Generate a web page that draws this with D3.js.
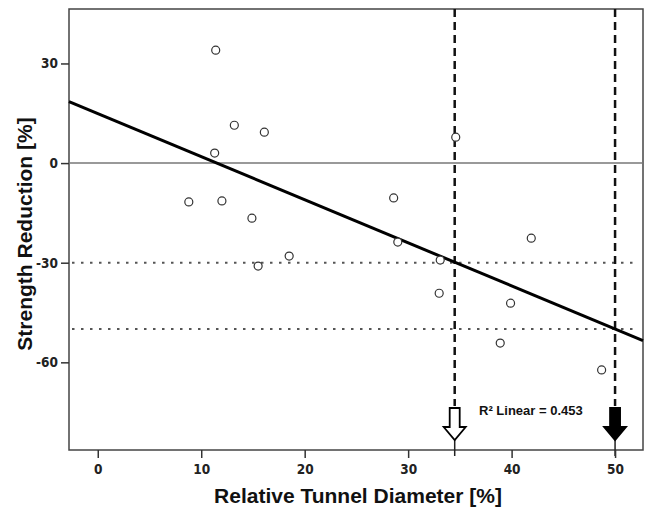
<!DOCTYPE html>
<html>
<head>
<meta charset="utf-8">
<script src="https://cdn.jsdelivr.net/npm/d3@7"></script>
<style>
	body { margin: 0; background: #fff; }
	.tick text { font-family: "Liberation Sans Narrow", "DejaVu Sans Condensed", sans-serif; font-weight: bold; font-size: 13.5px; fill: #222; }
	.title { font-family: "Liberation Sans", Arial, sans-serif; font-weight: bold; font-size: 21px; fill: #111; }
</style>
</head>
<body>
<div id="chart"></div>
<script>

// relative tunnel diameter [%] and strength reduction [%]
var diameter  = [11.4, 11.3, 13.2, 16.1,  8.8,  12.0,  14.9,  15.5,  18.5,  28.6,  29.0, 34.6,  33.1,  33.0,  41.9,  39.9,  38.9,  48.7];
var reduction = [34.0,  3.0, 11.4,  9.3, -11.7, -11.4, -16.6, -31.0, -28.0, -10.5, -23.8, 7.8, -29.2, -39.2, -22.6, -42.2, -54.2, -62.3];

var xTicks = [0, 10, 20, 30, 40, 50];
var yTicks = [-60, -30, 0, 30];

var fitIntercept = 14.9;
var fitSlope     = -1.297;
var rSquared     = "0.453";

var refLines   = [-30, -50];   // dotted horizontal lines
var markLines  = [34.5, 50];   // dashed vertical lines with arrows

var width = 650, height = 509;
var plotL = 69, plotR = 643, plotT = 9, plotB = 450;

var svg = d3.select("#chart")
	.append("svg")
	.attr("width", width)
	.attr("height", height);

var x = d3.scaleLinear().domain([-2.78, 52.7]).range([plotL, plotR]);
var y = d3.scaleLinear().domain([-86.4, 46.4]).range([plotB, plotT]);

// frame
svg.append("rect")
	.attr("x", plotL)
	.attr("y", plotT)
	.attr("width", plotR - plotL)
	.attr("height", plotB - plotT)
	.attr("fill", "none")
	.attr("stroke", "#444")
	.attr("stroke-width", 1.5);

// zero line
svg.append("line")
	.attr("x1", plotL).attr("x2", plotR)
	.attr("y1", y(0)).attr("y2", y(0))
	.attr("stroke", "#777")
	.attr("stroke-width", 1.5);

// dotted reference lines
svg.selectAll(".ref")
	.data(refLines)
	.enter().append("line")
	.attr("class", "ref")
	.attr("x1", plotL + 3).attr("x2", plotR - 4)
	.attr("y1", function(d) { return y(d); })
	.attr("y2", function(d) { return y(d); })
	.attr("stroke", "#555")
	.attr("stroke-width", 2)
	.attr("stroke-dasharray", "2.5,6.5");

// dashed vertical lines
svg.selectAll(".mark")
	.data(markLines)
	.enter().append("line")
	.attr("class", "mark")
	.attr("x1", function(d) { return x(d); })
	.attr("x2", function(d) { return x(d); })
	.attr("y1", plotT)
	.attr("y2", plotB - 44)
	.attr("stroke", "#111")
	.attr("stroke-width", 2.5)
	.attr("stroke-dasharray", "8,5");

// arrows
function arrowPath(cx) {
	var t = plotB - 42, h = plotB - 23, tip = plotB - 10;
	return "M" + (cx - 5) + "," + t + "L" + (cx + 5) + "," + t + "L" + (cx + 5) + "," + h +
		"L" + (cx + 11) + "," + h + "L" + cx + "," + tip + "L" + (cx - 11) + "," + h +
		"L" + (cx - 5) + "," + h + "Z";
}

markLines.forEach(function(d, i) {
	svg.append("line")
		.attr("x1", x(d)).attr("x2", x(d))
		.attr("y1", plotB - 10).attr("y2", plotB + 6)
		.attr("stroke", "#222")
		.attr("stroke-width", 1.5);
	svg.append("path")
		.attr("d", arrowPath(x(d)))
		.attr("fill", i == 0 ? "#fff" : "#000")
		.attr("stroke", "#000")
		.attr("stroke-width", 1.8);
});

// fit line
svg.append("line")
	.attr("x1", plotL).attr("x2", plotR)
	.attr("y1", y(fitIntercept + fitSlope * x.invert(plotL)))
	.attr("y2", y(fitIntercept + fitSlope * x.invert(plotR)))
	.attr("stroke", "#000")
	.attr("stroke-width", 3);

// points
svg.selectAll(".pt")
	.data(diameter)
	.enter().append("circle")
	.attr("class", "pt")
	.attr("cx", function(d) { return x(d); })
	.attr("cy", function(d, i) { return y(reduction[i]); })
	.attr("r", 4)
	.attr("fill", "#fff")
	.attr("stroke", "#333")
	.attr("stroke-width", 1.2);

// axes
var xAxis = svg.append("g")
	.attr("transform", "translate(0," + plotB + ")")
	.call(d3.axisBottom(x).tickValues(xTicks).tickSize(8).tickSizeOuter(0).tickPadding(6));
var yAxis = svg.append("g")
	.attr("transform", "translate(" + plotL + ",0)")
	.call(d3.axisLeft(y).tickValues(yTicks).tickSize(8).tickSizeOuter(0).tickPadding(3)
		.tickFormat(function(d) { return d < 0 ? "-" + (-d) : d; }));

[xAxis, yAxis].forEach(function(a) {
	a.select(".domain").remove();
	a.selectAll(".tick line").attr("stroke", "#333").attr("stroke-width", 1.5);
});

// r squared label
svg.append("text")
	.attr("x", 479)
	.attr("y", 415)
	.attr("font-family", "Liberation Sans, Arial, sans-serif")
	.attr("font-weight", "bold")
	.attr("font-size", 13)
	.attr("fill", "#111")
	.text("R² Linear = " + rSquared);

// titles
svg.append("text")
	.attr("class", "title")
	.attr("x", 358)
	.attr("y", 503)
	.attr("text-anchor", "middle")
	.text("Relative Tunnel Diameter [%]");

svg.append("text")
	.attr("class", "title")
	.attr("transform", "translate(32,234) rotate(-90)")
	.attr("text-anchor", "middle")
	.text("Strength Reduction [%]");

</script>
</body>
</html>
